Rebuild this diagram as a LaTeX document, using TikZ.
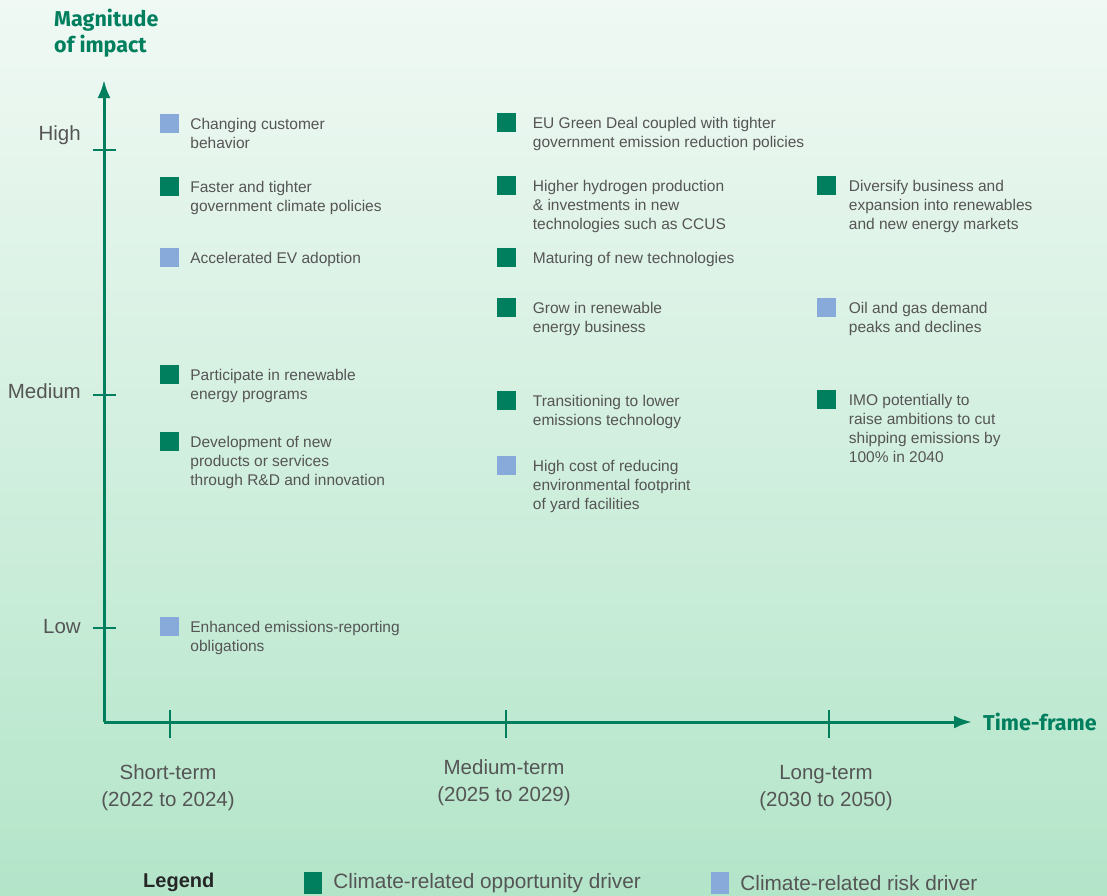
\documentclass[tikz,border=0pt]{standalone}
\usepackage{fontspec}
\setmainfont{Liberation Sans}
\newfontfamily\headfont{Fira Sans}
\usetikzlibrary{positioning,arrows.meta}
\definecolor{dgreen}{HTML}{007F5F}
\definecolor{lblue}{HTML}{88AADB}
\definecolor{tgrey}{HTML}{555555}
\definecolor{bgtop}{HTML}{F0F9F4}
\definecolor{bgbot}{HTML}{B3E5C9}
\tikzset{>={Latex[length=18pt,width=13pt]}}
\tikzset{
  opp/.style={fill=dgreen, minimum size=19pt, inner sep=0pt},
  risk/.style={fill=lblue, minimum size=19pt, inner sep=0pt},
  item/.style={inner sep=0pt, align=left, text=tgrey, yshift=-4pt,
    font=\fontsize{15.5pt}{19pt}\selectfont},
  ticklabel/.style={text=tgrey, inner sep=0pt, font=\fontsize{20.5pt}{27pt}\selectfont},
  head/.style={text=dgreen, inner sep=0pt, align=left,
    font=\headfont\bfseries\fontsize{21.5pt}{26pt}\selectfont},
  axis/.style={dgreen, line width=3pt},
}

\begin{document}
\begin{tikzpicture}[x=1pt,y=-1pt]

  % Background
  \shade[top color=bgtop, bottom color=bgbot] (0,0) rectangle (1107,895);
  \useasboundingbox (0,0) rectangle (1107,895);

  % Axes
  \coordinate (origin) at (104,722);
  \coordinate (ytop)   at (104,80);
  \coordinate (xend)   at (972,722);
  \draw[axis,->] (origin) -- (ytop);
  \draw[axis,->] (origin) -- (xend);
  \node[head, anchor=north west] (magn) at (54,9) {Magnitude\\of impact};
  \node[head, anchor=west]       (time) at (983,722) {Time-frame};

  % Ticks
  \foreach \y/\ly/\nm/\txt in {150/135/high/High, 395/391/medium/Medium, 628/627/low/Low}{
    \draw[axis, line width=2.5pt] (93,\y) -- (116,\y);
    \node[ticklabel, anchor=east] (\nm) at (81,\ly) {\txt};
  }
  \foreach \x in {170,506,829}
    \draw[axis, line width=2.5pt] (\x,710) -- (\x,738);
  \node[ticklabel, align=center] (short) at (168,788) {Short-term\\(2022 to 2024)};
  \node[ticklabel, align=center] (mid)   at (504,783) {Medium-term\\(2025 to 2029)};
  \node[ticklabel, align=center] (long)  at (826,788) {Long-term\\(2030 to 2050)};

  % Short-term drivers
  \node[risk] (behav)   at (169.5,123.5) {};
  \node[item, right=11pt of behav.north east, anchor=north west] (behavtxt)
    {Changing customer\\behavior};
  \node[opp]  (climpol) at (169.5,186.5) {};
  \node[item, right=11pt of climpol.north east, anchor=north west] (climpoltxt)
    {Faster and tighter\\government climate policies};
  \node[risk] (ev)      at (169.5,257.5) {};
  \node[item, right=11pt of ev.north east, anchor=north west] (evtxt)
    {Accelerated EV adoption};
  \node[opp]  (renprog) at (169.5,374.5) {};
  \node[item, right=11pt of renprog.north east, anchor=north west] (renprogtxt)
    {Participate in renewable\\energy programs};
  \node[opp]  (rnd)     at (169.5,441.5) {};
  \node[item, right=11pt of rnd.north east, anchor=north west] (rndtxt)
    {Development of new\\products or services\\through R\&D and innovation};
  \node[risk] (report)  at (169.5,626.5) {};
  \node[item, right=11pt of report.north east, anchor=north west] (reporttxt)
    {Enhanced emissions-reporting\\obligations};

  % Medium-term drivers
  \node[opp]  (deal)    at (506,122.5) {};
  \node[item, right=17pt of deal.north east, anchor=north west] (dealtxt)
    {EU Green Deal coupled with tighter\\government emission reduction policies};
  \node[opp]  (hydro)   at (506,185.5) {};
  \node[item, right=17pt of hydro.north east, anchor=north west] (hydrotxt)
    {Higher hydrogen production\\\& investments in new\\technologies such as CCUS};
  \node[opp]  (mature)  at (506,257.5) {};
  \node[item, right=17pt of mature.north east, anchor=north west] (maturetxt)
    {Maturing of new technologies};
  \node[opp]  (grow)    at (506,307.5) {};
  \node[item, right=17pt of grow.north east, anchor=north west] (growtxt)
    {Grow in renewable\\energy business};
  \node[opp]  (lowem)   at (506,400.5) {};
  \node[item, right=17pt of lowem.north east, anchor=north west] (lowemtxt)
    {Transitioning to lower\\emissions technology};
  \node[risk] (yard)    at (506,465.5) {};
  \node[item, right=17pt of yard.north east, anchor=north west] (yardtxt)
    {High cost of reducing\\environmental footprint\\of yard facilities};

  % Long-term drivers
  \node[opp]  (divers)  at (826,185.5) {};
  \node[item, right=13pt of divers.north east, anchor=north west] (diverstxt)
    {Diversify business and\\expansion into renewables\\and new energy markets};
  \node[risk] (peak)    at (826,307.5) {};
  \node[item, right=13pt of peak.north east, anchor=north west] (peaktxt)
    {Oil and gas demand\\peaks and declines};
  \node[opp]  (imo)     at (826,399.5) {};
  \node[item, right=13pt of imo.north east, anchor=north west] (imotxt)
    {IMO potentially to\\raise ambitions to cut\\shipping emissions by\\100\% in 2040};

  % Legend
  \node[text=black!85, inner sep=0pt, font=\bfseries\fontsize{20pt}{22pt}\selectfont,
    anchor=west] (legend) at (143,882) {Legend};
  \node[opp, minimum height=22pt, minimum width=18pt] (legopp) at (313,883) {};
  \node[ticklabel, font=\fontsize{20.8pt}{24pt}\selectfont, right=11pt of legopp]
    (legopptxt) {Climate-related opportunity driver};
  \node[risk, minimum height=22pt, minimum width=18pt] (legrisk) at (720,883) {};
  \node[ticklabel, font=\fontsize{20.8pt}{24pt}\selectfont, right=11pt of legrisk]
    (legrisktxt) {Climate-related risk driver};

\end{tikzpicture}
\end{document}
